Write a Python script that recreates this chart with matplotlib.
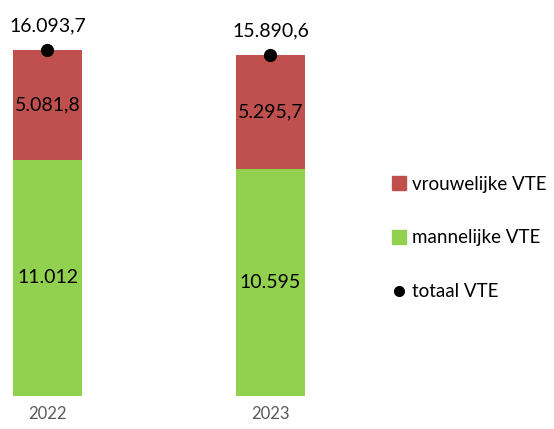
import matplotlib
matplotlib.use('Agg')
import matplotlib.pyplot as plt
from matplotlib.lines import Line2D

plt.rcParams['font.family'] = ['Lato', 'DejaVu Sans']

years = ['2022', '2023']
mannelijk = [11012, 10595]
vrouwelijk = [5081.8, 5295.7]
totaal = [16093.7, 15890.6]

labels_man = ['11.012', '10.595']
labels_vrouw = ['5.081,8', '5.295,7']
labels_tot = ['16.093,7', '15.890,6']

RED = '#C0504D'
GREEN = '#92D050'

fig = plt.figure(figsize=(5.54, 4.29), dpi=100)
ax = fig.add_axes([0, 33 / 429, 320 / 554, 396 / 429])

x = list(range(len(years)))
w = 69 / 223
ax.bar(x, mannelijk, width=w, color=GREEN)
ax.bar(x, vrouwelijk, width=w, bottom=mannelijk, color=RED)
ax.plot(x, totaal, 'o', color='black', markersize=8.5, zorder=3)

for i in x:
    ax.text(i, mannelijk[i] / 2, labels_man[i], ha='center', va='center', fontsize=14)
    ax.text(i, mannelijk[i] + vrouwelijk[i] / 2, labels_vrouw[i], ha='center', va='center', fontsize=14)
    ax.annotate(labels_tot[i], (i, totaal[i]), xytext=(0, 17.5), textcoords='offset points',
                ha='center', va='center', fontsize=14)

ax.set_xlim(-47.5 / 223, (320 - 47.5) / 223)
ax.set_ylim(0, 18445)
ax.set_xticks(x, years)
ax.tick_params(axis='x', length=0, pad=7, labelsize=12, labelcolor='#595959')
ax.set_yticks([])
for s in ax.spines.values():
    s.set_visible(False)

handles = [
    Line2D([], [], marker='s', linestyle='none', color=RED, markersize=10),
    Line2D([], [], marker='s', linestyle='none', color=GREEN, markersize=10),
    Line2D([], [], marker='o', linestyle='none', color='black', markersize=7),
]
fig.legend(handles, ['vrouwelijke VTE', 'mannelijke VTE', 'totaal VTE'],
           loc='center left', bbox_to_anchor=(384 / 554, 1 - 238 / 429),
           frameon=False, fontsize=13.5, labelspacing=1.95,
           handlelength=0.8, handletextpad=0.3, borderaxespad=0)

fig.savefig('out.png', dpi=100)
